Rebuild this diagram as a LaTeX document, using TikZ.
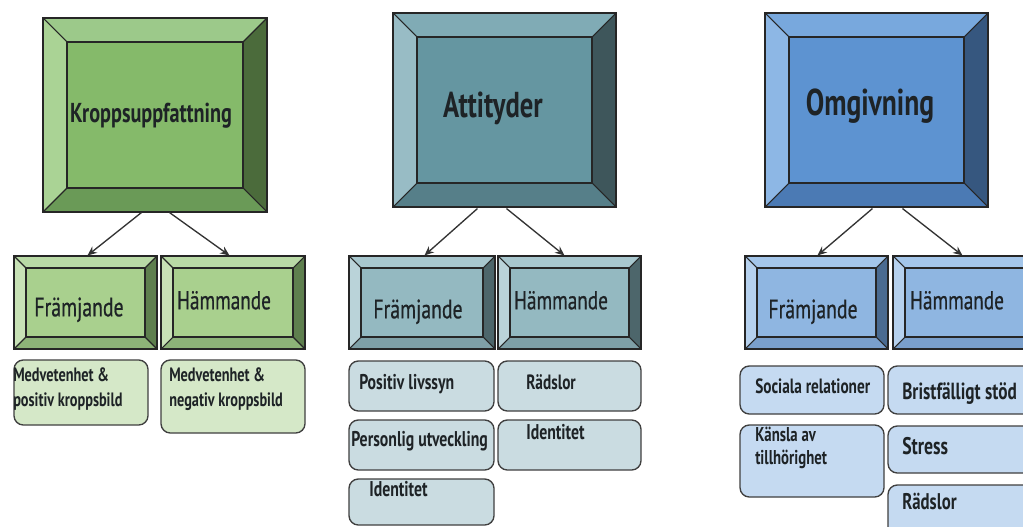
\documentclass[tikz,border=0pt]{standalone}
\usepackage{fontspec}
\setmainfont{PT Sans}[FakeStretch=0.74]
\newfontfamily\medfont{PT Sans}[FakeStretch=0.74, FakeBold=0.6]
\usetikzlibrary{arrows.meta,calc,fit}
% green
\definecolor{gBin}{HTML}{85BA6A}\definecolor{gBtop}{HTML}{9CC98A}\definecolor{gBleft}{HTML}{AAD395}
\definecolor{gBright}{HTML}{4B6B3B}\definecolor{gBbot}{HTML}{6A9A57}
\definecolor{gSin}{HTML}{A9D08E}\definecolor{gStop}{HTML}{B9DAA6}\definecolor{gSleft}{HTML}{C8E2B6}
\definecolor{gSright}{HTML}{5E7F4E}\definecolor{gSbot}{HTML}{8DB378}\definecolor{gR}{HTML}{D5E8C8}
% teal
\definecolor{tBin}{HTML}{6596A1}\definecolor{tBtop}{HTML}{80ABB5}\definecolor{tBleft}{HTML}{98BCC5}
\definecolor{tBright}{HTML}{3E565B}\definecolor{tBbot}{HTML}{567F89}
\definecolor{tSin}{HTML}{94B9C1}\definecolor{tStop}{HTML}{A8C7CE}\definecolor{tSleft}{HTML}{BAD3D9}
\definecolor{tSright}{HTML}{4D666B}\definecolor{tSbot}{HTML}{7FA0A7}\definecolor{tR}{HTML}{CADCE1}
% blue
\definecolor{bBin}{HTML}{5D93D1}\definecolor{bBtop}{HTML}{78A8DD}\definecolor{bBleft}{HTML}{8DB7E5}
\definecolor{bBright}{HTML}{36577F}\definecolor{bBbot}{HTML}{4B7AB4}
\definecolor{bSin}{HTML}{8FB6E1}\definecolor{bStop}{HTML}{A4C6EA}\definecolor{bSleft}{HTML}{B6D1EE}
\definecolor{bSright}{HTML}{4A6B91}\definecolor{bSbot}{HTML}{7A9FCB}\definecolor{bR}{HTML}{C5DAF1}
\definecolor{ink}{HTML}{1E2326}
\tikzset{
  outl/.style={draw=black!85, line width=0.8pt},
  rbox/.style={draw=black!75, line width=1pt, rounded corners=7pt, inner sep=0pt},
  arr/.style={-{Stealth[length=7pt,width=6pt]}, draw=black!80, line width=1pt},
  ttl/.style={inner sep=0pt, text=ink, anchor=mid},
  lbl/.style={inner sep=0pt, text=ink, anchor=mid west, font=\bfseries\fontsize{16}{18}\selectfont},
  lbl2/.style={inner sep=0pt, text=ink, anchor=north west, align=left},
}
\newcommand{\bevbox}[7]{%
  \fill[#2top] (#3,#4) -- (#5,#4) -- ({#5-#7},{#4+#7}) -- ({#3+#7},{#4+#7}) -- cycle;
  \fill[#2bot] (#3,#6) -- (#5,#6) -- ({#5-#7},{#6-#7}) -- ({#3+#7},{#6-#7}) -- cycle;
  \fill[#2left] (#3,#4) -- ({#3+#7},{#4+#7}) -- ({#3+#7},{#6-#7}) -- (#3,#6) -- cycle;
  \fill[#2right] (#5,#4) -- ({#5-#7},{#4+#7}) -- ({#5-#7},{#6-#7}) -- (#5,#6) -- cycle;
  \fill[#2in] ({#3+#7},{#4+#7}) rectangle ({#5-#7},{#6-#7});
  \draw[outl] ({#3+#7},{#4+#7}) rectangle ({#5-#7},{#6-#7});
  \draw[outl] (#3,#4) -- ({#3+#7},{#4+#7}) (#5,#4) -- ({#5-#7},{#4+#7})
              (#3,#6) -- ({#3+#7},{#6-#7}) (#5,#6) -- ({#5-#7},{#6-#7});
  \node[outl, fit={(#3,#4) (#5,#6)}, inner sep=0pt] (#1) {};
}
\newcommand{\rb}[6]{\node[rbox, fill=#2, fit={(#3,#4) (#5,#6)}] (#1) {};}
\begin{document}
\begin{tikzpicture}[x=0.75pt, y=-0.75pt]
\useasboundingbox (0,0) rectangle (1023,527);
\clip (0,0) rectangle (1023,527);
\fill[white] (0,0) rectangle (1023,527);

% ---------------- green column
\bevbox{gB}{gB}{43}{18}{267}{212}{24}
\node[ttl, font=\bfseries\fontsize{20.5}{21}\selectfont] (tK) at (151,119) {Kroppsuppfattning};
\bevbox{gF}{gS}{14}{256}{157}{349}{12}
\bevbox{gH}{gS}{161}{256}{305}{349}{12}
\node[ttl, font=\medfont\fontsize{20}{20}\selectfont] (tgF) at (79,313) {Främjande};
\node[ttl, font=\medfont\fontsize{19.5}{20}\selectfont] (tgH) at (224,306) {Hämmande};
\draw[arr] ($(gB.south west)+(99,0)$) -- ($(gF.north west)+(74,0)$);
\draw[arr] ($(gB.south west)+(127,0)$) -- ($(gH.north west)+(69,0)$);
\rb{gF1}{gR}{14}{360}{148}{425}
\rb{gH1}{gR}{161}{360}{305}{433}
\node[lbl2, font=\bfseries\fontsize{14.5}{18.75}\selectfont] (lg1) at (13,367) {Medvetenhet \&\\positiv kroppsbild};
\node[lbl2, font=\bfseries\fontsize{14.5}{18.75}\selectfont] (lg2) at (169,367) {Medvetenhet \&\\negativ kroppsbild};

% ---------------- teal column
\bevbox{tB}{tB}{393}{13}{616}{207}{24}
\node[ttl, font=\bfseries\fontsize{27}{27}\selectfont] (tA) at (493,114) {Attityder};
\bevbox{tF}{tS}{349}{256}{495}{349}{12}
\bevbox{tH}{tS}{498}{256}{641}{349}{12}
\node[ttl, font=\medfont\fontsize{20}{20}\selectfont] (ttF) at (418,315) {Främjande};
\node[ttl, font=\medfont\fontsize{19.5}{20}\selectfont] (ttH) at (561,306) {Hämmande};
\draw[arr] ($(tB.south west)+(85,1)$) -- ($(tF.north west)+(76,0)$);
\draw[arr] ($(tB.south west)+(114,1)$) -- ($(tH.north west)+(67,0)$);
\rb{tF1}{tR}{349}{361}{494}{411}
\rb{tH1}{tR}{498}{361}{641}{411}
\rb{tF2}{tR}{349}{420}{494}{470}
\rb{tH2}{tR}{498}{420}{641}{470}
\rb{tF3}{tR}{349}{479}{494}{525}
\node[lbl] (lt1) at (359,386) {Positiv livssyn};
\node[lbl, font=\bfseries\fontsize{15.5}{18}\selectfont] (lt2) at (526,386) {Rädslor};
\node[lbl] (lt3) at (351,443) {Personlig utveckling};
\node[lbl] (lt4) at (526,436) {Identitet};
\node[lbl] (lt5) at (369,493) {Identitet};

% ---------------- blue column
\bevbox{bB}{bB}{765}{13}{988}{207}{24}
\node[ttl, font=\bfseries\fontsize{28}{28}\selectfont] (tO) at (870,112) {Omgivning};
\bevbox{bF}{bS}{745}{256}{888}{349}{12}
\bevbox{bH}{bS}{893}{256}{1040}{349}{12}
\node[ttl, font=\medfont\fontsize{20}{20}\selectfont] (tbF) at (813,315) {Främjande};
\node[ttl, font=\medfont\fontsize{19.5}{20}\selectfont] (tbH) at (957,306) {Hämmande};
\draw[arr] ($(bB.south west)+(108,1)$) -- ($(bF.north west)+(73,0)$);
\draw[arr] ($(bB.south west)+(138,1)$) -- ($(bH.north west)+(70,0)$);
\rb{bF1}{bR}{740}{366}{884}{414}
\rb{bH1}{bR}{888}{366}{1040}{414}
\rb{bF2}{bR}{740}{425}{884}{497}
\rb{bH2}{bR}{888}{426}{1040}{473}
\rb{bH3}{bR}{888}{485}{1040}{560}
\node[lbl, font=\bfseries\fontsize{15.5}{18}\selectfont] (lb1) at (755,390) {Sociala relationer};
\node[lbl, font=\bfseries\fontsize{17.5}{19}\selectfont] (lb2) at (902,396) {Bristfälligt stöd};
\node[lbl2, font=\bfseries\fontsize{15}{17.25}\selectfont] (lb3) at (755,427) {Känsla av\\tillhörighet};
\node[lbl, font=\bfseries\fontsize{18}{19}\selectfont] (lb4) at (902,451) {Stress};
\node[lbl, font=\bfseries\fontsize{17}{19}\selectfont] (lb5) at (902,506) {Rädslor};
\end{tikzpicture}
\end{document}
